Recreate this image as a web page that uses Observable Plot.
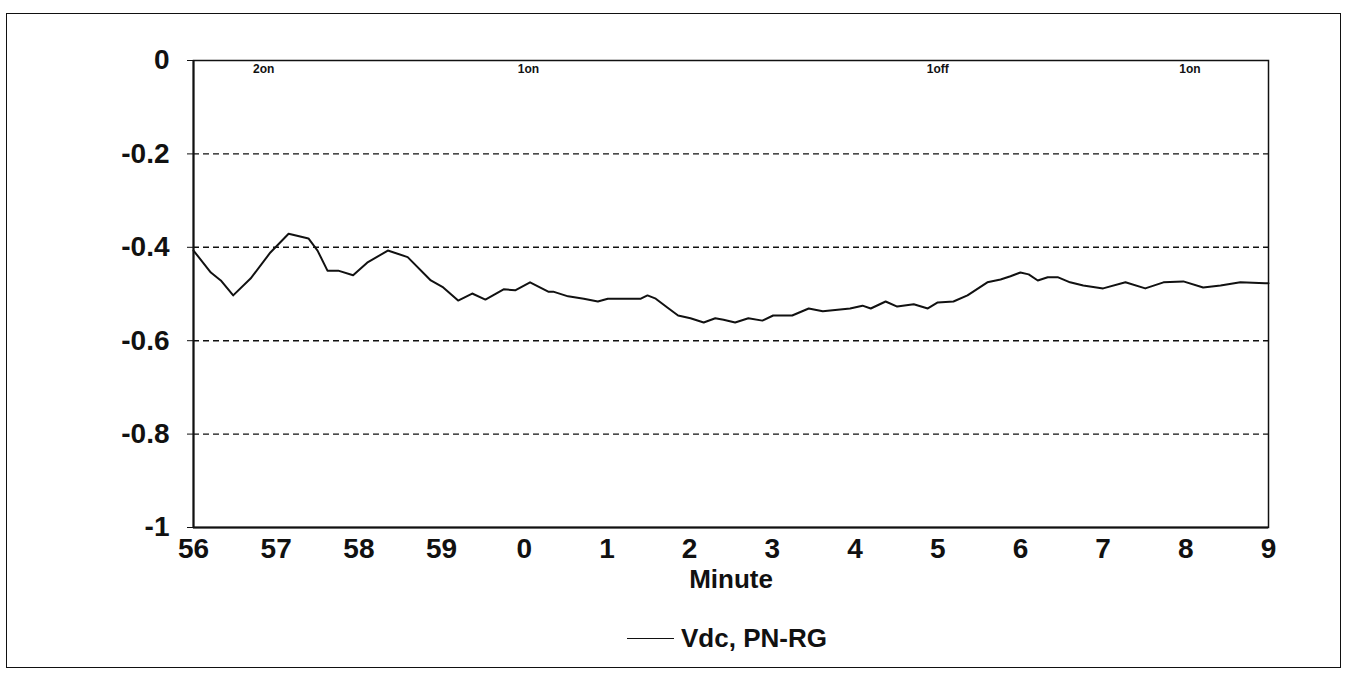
<!DOCTYPE html>
<html>
<head>
<meta charset="utf-8">
<script src="https://cdn.jsdelivr.net/npm/d3@7"></script>
<script src="https://cdn.jsdelivr.net/npm/@observablehq/plot@0.6"></script>
<style>
  html, body { margin: 0; padding: 0; background: #fff; }
  #wrap { position: relative; width: 1351px; height: 677px; overflow: hidden; }
  #border { position: absolute; left: 6px; top: 13px; width: 1335px; height: 655px; border: 1.5px solid #111; box-sizing: border-box; pointer-events: none; }
  #legend { position: absolute; left: 627px; top: 623px; display: flex; align-items: center; gap: 7px;
            font-family: "Liberation Sans", Arial, sans-serif;
            font-weight: bold; font-size: 26px; color: #111; }
  #legend .sw { width: 47px; height: 0; border-top: 1.5px solid #111; }
</style>
</head>
<body>
<div id="wrap">
  <div id="chart"></div>
  <div id="border"></div>
  <div id="legend"><span class="sw"></span><span>Vdc, PN-RG</span></div>
</div>
<script>
// elapsed minutes since 56 (tick positions) and their labels
const tickMinutes = [0,1,2,3,4,5,6,7,8,9,10,11,12,13];
const tickLabels = ["56","57","58","59","0","1","2","3","4","5","6","7","8","9"];
const yTicks = [0,-0.2,-0.4,-0.6,-0.8,-1];
const yTickLabels = ["0","-0.2","-0.4","-0.6","-0.8","-1"];
const gridValues = [-0.2,-0.4,-0.6,-0.8];

// series: Vdc, PN-RG
const minutes = [0.00,0.21,0.33,0.48,0.69,0.93,1.15,1.29,1.39,1.50,1.62,1.75,1.93,2.10,2.35,2.59,2.87,3.02,3.20,3.37,3.53,3.75,3.89,4.07,4.29,4.35,4.53,4.72,4.89,5.01,5.16,5.41,5.49,5.59,5.73,5.86,6.01,6.17,6.31,6.41,6.55,6.71,6.88,7.01,7.24,7.44,7.61,7.82,7.94,8.09,8.19,8.37,8.51,8.71,8.88,9.00,9.19,9.36,9.60,9.76,9.88,10.00,10.10,10.21,10.33,10.45,10.60,10.76,11.00,11.27,11.51,11.73,11.97,12.21,12.42,12.66,12.96,13.00];
const values = [-0.407,-0.454,-0.471,-0.503,-0.467,-0.411,-0.371,-0.377,-0.381,-0.407,-0.450,-0.450,-0.460,-0.433,-0.407,-0.421,-0.471,-0.486,-0.514,-0.499,-0.512,-0.490,-0.492,-0.475,-0.495,-0.495,-0.505,-0.510,-0.516,-0.510,-0.510,-0.510,-0.503,-0.510,-0.529,-0.546,-0.552,-0.561,-0.552,-0.555,-0.561,-0.552,-0.557,-0.546,-0.546,-0.531,-0.537,-0.533,-0.531,-0.525,-0.531,-0.516,-0.527,-0.522,-0.531,-0.518,-0.516,-0.503,-0.475,-0.469,-0.462,-0.454,-0.458,-0.471,-0.464,-0.464,-0.475,-0.482,-0.488,-0.475,-0.488,-0.475,-0.473,-0.486,-0.482,-0.475,-0.477,-0.477];

// event annotations along the top
const eventLabels = ["2on","1on","1off","1on"];
const eventMinutes = [0.85,4.05,9.0,12.05];

const data = minutes.map((m, i) => ({m, v: values[i]}));
const events = eventLabels.map((t, i) => ({t, m: eventMinutes[i]}));
const FONT = '"Liberation Sans", Arial, sans-serif';

const chart = Plot.plot({
  width: 1351,
  height: 677,
  marginLeft: 193,
  marginRight: 83,
  marginTop: 60,
  marginBottom: 150,
  style: {fontFamily: FONT, fontSize: "28px", fontWeight: "bold", color: "#111", background: "transparent"},
  x: {domain: [0, 13], label: null},
  y: {domain: [-1, 0], label: null},
  marks: [
    Plot.ruleY(gridValues, {stroke: "#111", strokeWidth: 1.4, strokeDasharray: "6,4"}),
    Plot.frame({stroke: "#111", strokeWidth: 1.5}),
    Plot.ruleX([0], {stroke: "#111", strokeWidth: 2}),
    Plot.ruleY([-1], {stroke: "#111", strokeWidth: 2}),
    Plot.axisX({ticks: tickMinutes, tickFormat: d => tickLabels[tickMinutes.indexOf(d)], tickSize: 0, tickPadding: 11, fontSize: 28, fontWeight: "bold", label: null}),
    Plot.axisY({ticks: yTicks, tickFormat: d => yTickLabels[yTicks.findIndex(v => Math.abs(v - d) < 1e-9)], tickSize: 6, tickPadding: 18, fontSize: 28, fontWeight: "bold", label: null, stroke: "#111"}),
    Plot.line(data, {x: "m", y: "v", stroke: "#111", strokeWidth: 2}),
    Plot.text(events, {x: "m", y: 0, text: "t", dy: 9, fontSize: 12, fontWeight: "bold", fill: "#111"}),
    Plot.text(["Minute"], {frameAnchor: "bottom", dy: 60, fontSize: 26, fontWeight: "bold", fill: "#111"})
  ]
});
document.getElementById("chart").appendChild(chart);
</script>
</body>
</html>
